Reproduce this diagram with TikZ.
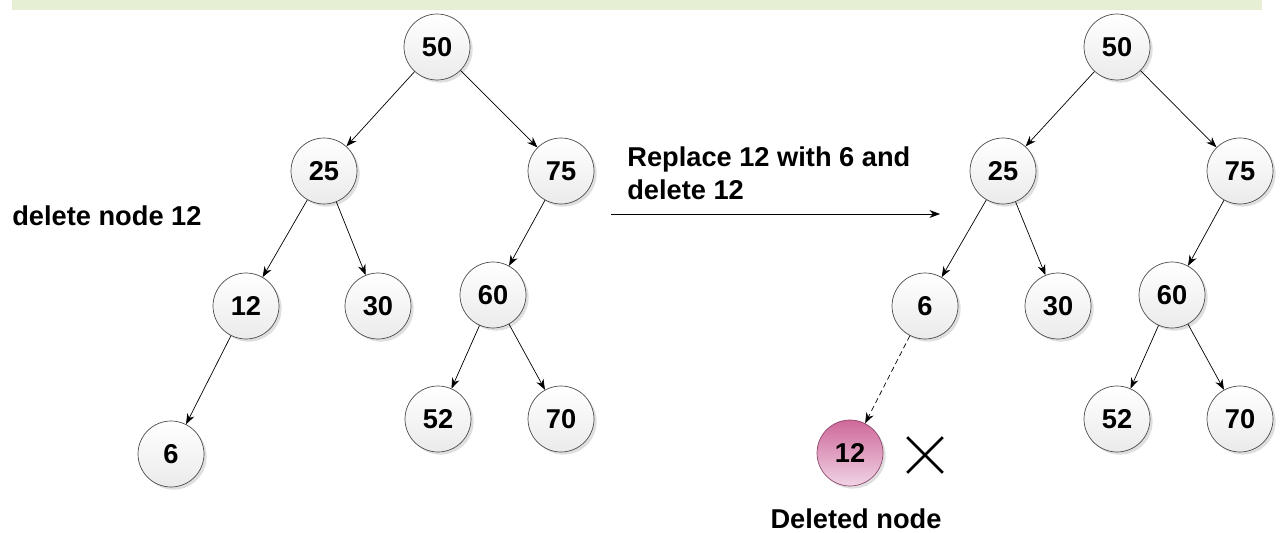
\documentclass[tikz,border=0pt]{standalone}
\usepackage{fontspec}
\setmainfont{Liberation Sans}
\usepackage{tikz}
\usetikzlibrary{arrows.meta,shadows}

\definecolor{bandgreen}{RGB}{230,238,212}
\definecolor{pinktop}{RGB}{206,104,154}
\definecolor{pinkbot}{RGB}{240,212,228}

\begin{document}
\begin{tikzpicture}[x=0.02cm,y=0.02cm,
    key/.style={circle,draw=black!70,thin,minimum size=1.32cm,inner sep=0pt,
      top color=white,bottom color=black!8,
      drop shadow={opacity=0.25,shadow xshift=1.5pt,shadow yshift=-1.5pt},
      font=\fontsize{15.5}{18.5}\selectfont\bfseries},
    gone/.style={key,draw=pinktop!70!black,top color=pinktop,bottom color=pinkbot},
    note/.style={font=\fontsize{15.5}{18.5}\selectfont\bfseries,align=left,inner sep=0pt},
    link/.style={-{Stealth[length=6pt,width=4.5pt]},black,thin}]
            \useasboundingbox (0,0) rectangle (1285,-533);
            \fill [bandgreen] (12,0) rectangle (1262,-10);
            % tree before deletion
            \node [key] (l50) at (437,-47) {50};
            \node [key] (l25) at (324,-171) {25};
            \node [key] (l75) at (561,-171) {75};
            \node [key] (l12) at (246,-306) {12};
            \node [key] (l30) at (378,-306) {30};
            \node [key] (l60) at (493,-295) {60};
            \node [key] (l6) at (171,-454) {6};
            \node [key] (l52) at (438,-419) {52};
            \node [key] (l70) at (561,-419) {70};
            \draw [link] (l50) -- (l25);
            \draw [link] (l50) -- (l75);
            \draw [link] (l25) -- (l12);
            \draw [link] (l25) -- (l30);
            \draw [link] (l12) -- (l6);
            \draw [link] (l75) -- (l60);
            \draw [link] (l60) -- (l52);
            \draw [link] (l60) -- (l70);
            \node [note,anchor=west] (ask) at (12,-216) {delete node 12};
            % step
            \node [note,anchor=south west] (how) at (627,-200) {Replace 12 with 6 and\\delete 12};
            \coordinate (go) at (611,-214);
            \coordinate (done) at (940,-214);
            \draw [link] (go) -- (done);
            % tree after deletion
            \node [key] (r50) at (1117,-47) {50};
            \node [key] (r25) at (1003,-171) {25};
            \node [key] (r75) at (1240,-171) {75};
            \node [key] (r6) at (925,-306) {6};
            \node [key] (r30) at (1058,-306) {30};
            \node [key] (r60) at (1172,-295) {60};
            \node [key] (r52) at (1117,-419) {52};
            \node [key] (r70) at (1240,-419) {70};
            \node [gone] (r12) at (850,-453) {12};
            \draw [link] (r50) -- (r25);
            \draw [link] (r50) -- (r75);
            \draw [link] (r25) -- (r6);
            \draw [link] (r25) -- (r30);
            \draw [link] (r75) -- (r60);
            \draw [link] (r60) -- (r52);
            \draw [link] (r60) -- (r70);
            \draw [link,densely dashed] (r6) -- (r12);
            \node [inner sep=0pt,minimum size=0.7cm] (cross) at (925,-455) {};
            \draw [line width=1.6pt] (cross.north west) -- (cross.south east)
                (cross.north east) -- (cross.south west);
            \node [note] (lbl) at (856,-519) {Deleted node};
\end{tikzpicture}
\end{document}
